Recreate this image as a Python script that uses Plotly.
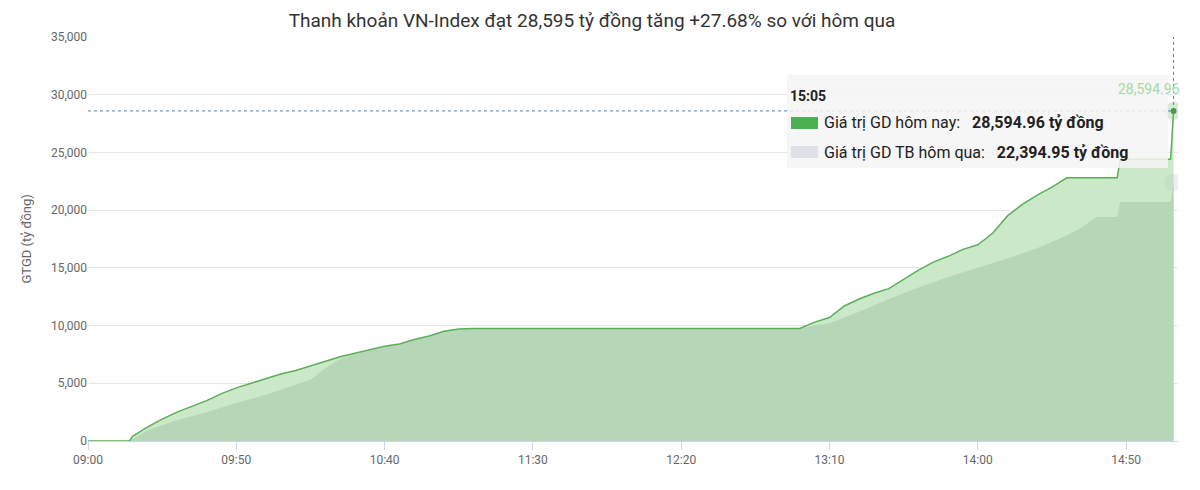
import plotly.graph_objects as go

# minutes since 09:00
today_x = [0,14,15,20,25,30,35,40,45,50,55,60,65,70,75,80,85,90,95,100,105,110,115,120,125,130,240,245,250,255,260,265,270,275,280,285,290,295,300,305,310,315,320,325,330,347,348,365,366]
today_y = [0,0,400,1200,1900,2500,3000,3500,4100,4600,5000,5400,5800,6100,6500,6900,7300,7600,7900,8200,8400,8800,9100,9500,9700,9750,9750,10300,10700,11700,12300,12800,13200,14000,14800,15500,16000,16600,17000,18000,19500,20500,21300,22000,22800,22800,24400,24400,28594.96]
yest_x = [0,14,20,30,40,50,60,68,75,80,85,90,95,100,105,110,115,120,125,130,240,245,250,260,270,280,290,300,310,320,330,335,340,347,348,365,366]
yest_y = [0,0,900,1800,2500,3300,4000,4700,5300,6300,7100,7500,7850,8150,8350,8750,9050,9450,9650,9750,9750,10000,10200,11200,12300,13300,14200,15000,15800,16700,17800,18500,19400,19400,20700,20700,22394.95]
tick_vals = [0,50,100,150,200,250,300,350]
tick_text = ["09:00","09:50","10:40","11:30","12:20","13:10","14:00","14:50"]
y_ticks = [0,5000,10000,15000,20000,25000,30000,35000]

fig = go.Figure()
fig.add_trace(go.Scatter(x=today_x, y=today_y, fill="tozeroy", mode="none",
                         fillcolor="#cbe8c8", hoverinfo="skip"))
fig.add_trace(go.Scatter(x=yest_x, y=yest_y, fill="tozeroy", mode="none",
                         fillcolor="#b5d6b7", hoverinfo="skip"))
fig.add_trace(go.Scatter(x=today_x, y=today_y, mode="lines",
                         line=dict(color="#5cae5a", width=1.5), hoverinfo="skip"))
fig.add_trace(go.Scatter(x=[today_x[-1]], y=[today_y[-1]], mode="markers",
                         marker=dict(size=18, color="rgba(92,174,90,0.25)"), hoverinfo="skip"))
fig.add_trace(go.Scatter(x=[today_x[-1]], y=[today_y[-1]], mode="markers",
                         marker=dict(size=6, color="#4a9a48"), hoverinfo="skip"))
fig.add_trace(go.Scatter(x=[yest_x[-1]], y=[yest_y[-1]], mode="markers",
                         marker=dict(size=18, color="rgba(200,200,200,0.3)"), hoverinfo="skip"))

xe = today_x[-1]
fig.add_shape(type="line", x0=0, x1=xe, y0=today_y[-1], y1=today_y[-1],
              line=dict(color="#4a7fd0", width=1, dash="dot"))
fig.add_shape(type="line", x0=xe, x1=xe, y0=today_y[-1], y1=35000,
              line=dict(color="#4a7fd0", width=1, dash="dot"))
# tooltip box (positions given in screen px of the plot area)
fig.add_shape(type="rect", xref="paper", yref="paper",
              x0=(787-88)/1090, x1=(1168-88)/1090, y0=(441-168)/404, y1=(441-75)/404,
              fillcolor="rgba(245,245,245,0.85)", line=dict(width=0), layer="above")
fig.add_shape(type="rect", xref="paper", yref="paper",
              x0=(791-88)/1090, x1=(818-88)/1090, y0=(441-129)/404, y1=(441-117)/404,
              fillcolor="#4caf50", line=dict(width=0), layer="above")
fig.add_shape(type="rect", xref="paper", yref="paper",
              x0=(791-88)/1090, x1=(818-88)/1090, y0=(441-158)/404, y1=(441-146)/404,
              fillcolor="#dde1e6", line=dict(width=0), layer="above")
def ann(px, py, text, size=15, color="#222", anchor="left"):
    fig.add_annotation(xref="paper", yref="paper", x=(px-88)/1090, y=(441-py)/404,
                       text=text, showarrow=False, xanchor=anchor, yanchor="middle",
                       font=dict(size=size, color=color, family="Roboto"))
ann(788, 96, "<b>15:05</b>", 14)
ann(822, 123, "Giá trị GD hôm nay:   <b>28,594.96 tỷ đồng</b>", 16)
ann(822, 152, "Giá trị GD TB hôm qua:   <b>22,394.95 tỷ đồng</b>", 16)
ann(1182, 89, "28,594.96", 14, "#a8d8a5", "right")
fig.add_annotation(xref="paper", yref="paper", x=(16-88)/1090, y=(441-239)/404,
                   text="GTGD (tỷ đồng)", textangle=-90, showarrow=False,
                   font=dict(size=13, color="#666", family="Roboto"))

fig.update_layout(
    width=1184, height=474, plot_bgcolor="white", paper_bgcolor="white",
    margin=dict(l=80, r=14, t=29, b=41, autoexpand=False), showlegend=False,
    title=dict(text="Thanh khoản VN-Index đạt 28,595 tỷ đồng tăng +27.68% so với hôm qua",
               x=584/1184, xref="container", y=1 - 12/474, yref="container", xanchor="center", yanchor="middle",
               automargin=False, font=dict(size=19, color="#333", family="Roboto")),
    font=dict(family="Roboto", color="#666", size=12),
)
fig.update_xaxes(range=[0, 367.5], tickvals=tick_vals, ticktext=tick_text, automargin=False,
                 showgrid=False, ticks="outside", ticklen=8, tickcolor="#ccd6eb",
                 showline=True, linecolor="#ccd6eb", tickfont=dict(size=12, color="#666"))
fig.update_yaxes(range=[0, 35000], tickvals=y_ticks, tickformat=",", automargin=False,
                 gridcolor="#e6e6e6", zeroline=False,
                 tickfont=dict(size=12, color="#666"))
fig.write_html("out.html")
